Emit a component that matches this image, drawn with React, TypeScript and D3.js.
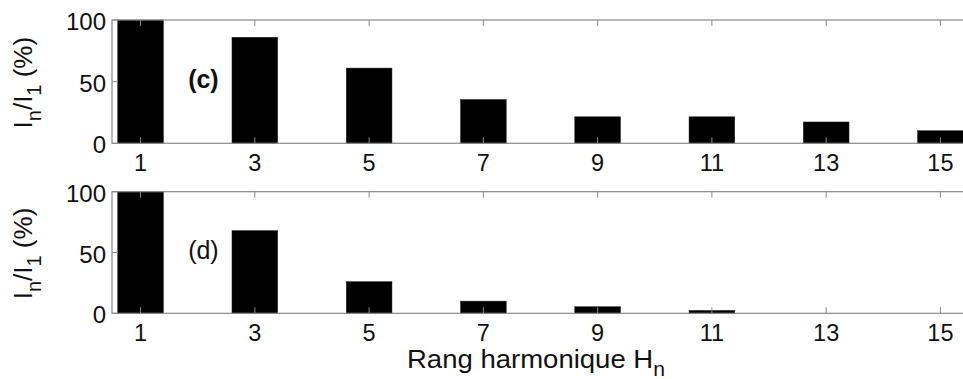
import React from "react";
import * as d3 from "d3";

const harmonics = [1, 3, 5, 7, 9, 11, 13, 15];
const valuesC = [100, 86, 61, 35.5, 21.5, 21.5, 17.3, 10.2];
const valuesD = [100, 68, 26, 10, 5.4, 2.4, 0, 0];
const yTicks = [0, 50, 100];
const panelLabels = ["(c)", "(d)"];
const xTitle = "Rang harmonique H";
const xTitleSub = "n";

const W = 963;
const H = 379;
const FONT = "'Liberation Sans', Arial, Helvetica, sans-serif";
const AXIS = "#8a8a8a";

const x = d3.scaleLinear().domain([0.5, 15.5]).range([112, 969]);

type PanelProps = { values: number[]; top: number; bottom: number; label: string; bold: boolean };

function Panel({ values, top, bottom, label, bold }: PanelProps) {
  const y = d3.scaleLinear().domain([0, 100]).range([bottom, top]);
  const [x0, x1] = x.range();
  const tl = 6;
  const bw = x(0.8) - x(0);
  return (
    <g>
      {harmonics.map((h, i) =>
        values[i] > 0 ? (
          <rect
            key={h}
            x={x(h - 0.4)}
            y={y(values[i])}
            width={bw}
            height={y(0) - y(values[i])}
            fill="#000"
            stroke="#222"
            strokeWidth={0.5}
          />
        ) : null
      )}
      <rect x={x0} y={top} width={x1 - x0} height={bottom - top} fill="none" stroke={AXIS} strokeWidth={1.2} />
      {harmonics.map((h) => (
        <g key={"t" + h}>
          <line x1={x(h)} x2={x(h)} y1={bottom} y2={bottom - tl} stroke={AXIS} strokeWidth={1} />
          <line x1={x(h)} x2={x(h)} y1={top} y2={top + tl} stroke={AXIS} strokeWidth={1} />
          <text x={x(h)} y={bottom + 27.5} textAnchor="middle" fontSize={23.5} fontFamily={FONT} fill="#111">
            {h}
          </text>
        </g>
      ))}
      {yTicks.map((v) => (
        <g key={"y" + v}>
          <line x1={x0} x2={x0 + tl} y1={y(v)} y2={y(v)} stroke={AXIS} strokeWidth={1} />
          <line x1={x1} x2={x1 - tl} y1={y(v)} y2={y(v)} stroke={AXIS} strokeWidth={1} />
          <text x={106} y={y(v) + 10} textAnchor="end" fontSize={24} fontFamily={FONT} fill="#111">
            {v}
          </text>
        </g>
      ))}
      <text
        x={x(2.1)}
        y={y(50) + 6.5}
        fontSize={25}
        fontWeight={bold ? "bold" : "normal"}
        fontFamily={FONT}
        fill="#111"
        textAnchor="middle"
      >
        {label}
      </text>
      <text
        transform={`translate(32,${(top + bottom) / 2 + 1}) rotate(-90)`}
        textAnchor="middle"
        fontSize={26}
        fontFamily={FONT}
        fill="#111"
      >
        <tspan>I</tspan>
        <tspan dy={9} fontSize={20}>n</tspan>
        <tspan dy={-9}>/I</tspan>
        <tspan dy={9} fontSize={20}>1</tspan>
        <tspan dy={-9}> (%)</tspan>
      </text>
    </g>
  );
}

export default function App() {
  return (
    <svg
      width={W}
      height={H}
      style={{ position: "fixed", left: 0, top: 0, background: "#fff" }}
    >
      <rect x={0} y={0} width={W} height={H} fill="#fff" />
      <Panel values={valuesC} top={20} bottom={143.3} label={panelLabels[0]} bold={true} />
      <Panel values={valuesD} top={191.7} bottom={313.3} label={panelLabels[1]} bold={false} />
      <text x={536} y={367.5} textAnchor="middle" fontSize={26} fontFamily={FONT} fill="#111" textLength={258} lengthAdjust="spacingAndGlyphs">
        {xTitle}
        <tspan dy={8} fontSize={20}>{xTitleSub}</tspan>
      </text>
    </svg>
  );
}
